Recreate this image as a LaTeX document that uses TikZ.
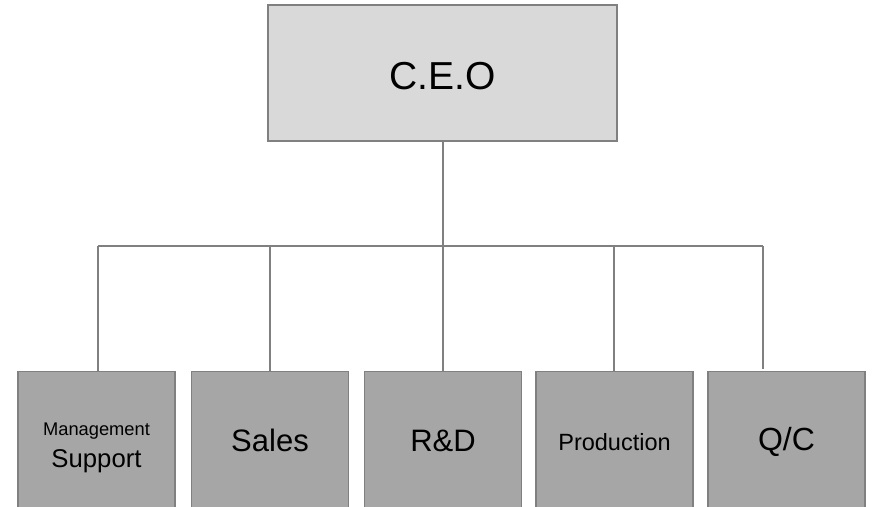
\documentclass[tikz,border=0pt]{standalone}
\usepackage{fontspec}
\setmainfont{Liberation Sans}
\definecolor{topfill}{HTML}{D9D9D9}
\definecolor{boxfill}{HTML}{A6A6A6}
\definecolor{edge}{HTML}{808080}
\begin{document}
\begin{tikzpicture}[x=1pt,y=-1pt,
  topbox/.style={draw=edge,fill=topfill,line width=1.5pt,minimum width=349pt,minimum height=136pt,inner sep=0pt,font=\fontsize{39}{47}\selectfont,text height=32.6pt,text depth=0pt},
  deptbox/.style={draw=edge,fill=boxfill,line width=1.5pt,minimum width=157pt,minimum height=140pt,inner sep=0pt},
  conn/.style={draw=edge,line width=1.6pt}]
\useasboundingbox (0,0) rectangle (872,506);
\clip (0,0) rectangle (872,506);
\node[topbox] (ceo) at (442.5,73) {C.E.O};
\node[deptbox,align=center] (b1) at (96.5,441.5) {{\fontsize{18.3}{22}\selectfont\rule{0pt}{25pt}Management}\\[9pt]{\fontsize{25.7}{30}\selectfont Support}};
\node[deptbox,font=\fontsize{31}{37}\selectfont,text height=19pt,text depth=0pt] (b2) at (270,441.5) {Sales};
\node[deptbox,font=\fontsize{31}{37}\selectfont,text height=19pt,text depth=0pt] (b3) at (443,441.5) {R\&D};
\node[deptbox,font=\fontsize{23.5}{28}\selectfont,text height=17pt,text depth=0pt] (b4) at (614.5,441.5) {Production};
\node[deptbox,font=\fontsize{32}{38}\selectfont,text height=17pt,text depth=0pt] (b5) at (786.5,441.5) {Q/C};
\coordinate (d1) at (98,246);
\coordinate (d2) at (270,246);
\coordinate (d3) at (443,246);
\coordinate (d4) at (614,246);
\coordinate (d5) at (763,246);
\draw[conn] (ceo.south -| d3) -- (d3);
\draw[conn] (d1) -- (d5);
\draw[conn] (d1) -- (d1 |- b1.north);
\draw[conn] (d2) -- (d2 |- b2.north);
\draw[conn] (d3) -- (d3 |- b3.north);
\draw[conn] (d4) -- (d4 |- b4.north);
\draw[conn] (d5) -- ([yshift=2pt]d5 |- b5.north);
\end{tikzpicture}
\end{document}
